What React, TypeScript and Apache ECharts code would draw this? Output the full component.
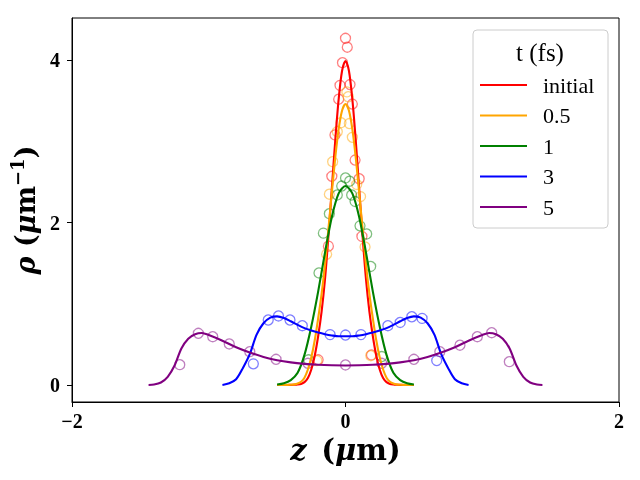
import React, { useEffect, useRef } from "react";
import * as echarts from "echarts";

// ---- data ----
const seriesNames = ["initial", "0.5", "1", "3", "5"];
const seriesColors = ["#ff0000", "#ffa500", "#008000", "#0000ff", "#800080"];

const zFine = [
  -0.5, -0.475, -0.45, -0.425, -0.4, -0.375, -0.35, -0.325, -0.3, -0.275, -0.25, -0.225, -0.2, -0.175,
  -0.15, -0.125, -0.1, -0.075, -0.05, -0.025, 0, 0.025, 0.05, 0.075, 0.1, 0.125, 0.15, 0.175, 0.2,
  0.225, 0.25, 0.275, 0.3, 0.325, 0.35, 0.375, 0.4, 0.425, 0.45, 0.475, 0.5,
];
const rhoInitial = [
  0, 0, 0, 0, 0.001, 0.002, 0.005, 0.013, 0.035, 0.085, 0.19, 0.36, 0.6, 0.9, 1.3, 1.83, 2.42, 3.01,
  3.52, 3.87, 3.99, 3.87, 3.52, 3.01, 2.42, 1.83, 1.3, 0.9, 0.6, 0.36, 0.19, 0.085, 0.035, 0.013,
  0.005, 0.002, 0.001, 0, 0, 0, 0,
];
const rhoHalf = [
  0, 0, 0, 0.001, 0.003, 0.007, 0.017, 0.04, 0.09, 0.19, 0.34, 0.55, 0.82, 1.12, 1.48, 1.92, 2.37,
  2.8, 3.15, 3.38, 3.46, 3.38, 3.15, 2.8, 2.37, 1.92, 1.48, 1.12, 0.82, 0.55, 0.34, 0.19, 0.09, 0.04,
  0.017, 0.007, 0.003, 0.001, 0, 0, 0,
];
const zMid = [
  -0.5, -0.45, -0.4, -0.35, -0.3, -0.25, -0.2, -0.15, -0.1, -0.05, 0, 0.05, 0.1, 0.15, 0.2, 0.25, 0.3,
  0.35, 0.4, 0.45, 0.5,
];
const rhoOne = [
  0.005, 0.02, 0.06, 0.15, 0.37, 0.72, 1.15, 1.63, 2.07, 2.36, 2.45, 2.36, 2.07, 1.63, 1.15, 0.72,
  0.37, 0.15, 0.06, 0.02, 0.005,
];
const zWide = [
  -0.9, -0.85, -0.8, -0.75, -0.7, -0.65, -0.6, -0.55, -0.5, -0.45, -0.4, -0.35, -0.3, -0.25, -0.2,
  -0.15, -0.1, -0.05, 0, 0.05, 0.1, 0.15, 0.2, 0.25, 0.3, 0.35, 0.4, 0.45, 0.5, 0.55, 0.6, 0.65, 0.7,
  0.75, 0.8, 0.85, 0.9,
];
const rhoThree = [
  0, 0.02, 0.07, 0.21, 0.38, 0.62, 0.76, 0.83, 0.845, 0.825, 0.785, 0.74, 0.7, 0.67, 0.645, 0.625,
  0.61, 0.6, 0.6, 0.6, 0.61, 0.625, 0.645, 0.67, 0.7, 0.74, 0.785, 0.825, 0.845, 0.83, 0.76, 0.62,
  0.38, 0.21, 0.07, 0.02, 0,
];
const zOuter = [
  -1.44, -1.4, -1.35, -1.3, -1.25, -1.2, -1.15, -1.1, -1.05, -1.0, -0.9, -0.8, -0.7, -0.6, -0.5, -0.4,
  -0.3, -0.2, -0.1, 0, 0.1, 0.2, 0.3, 0.4, 0.5, 0.6, 0.7, 0.8, 0.9, 1.0, 1.05, 1.1, 1.15, 1.2, 1.25,
  1.3, 1.35, 1.4, 1.44,
];
const rhoFive = [
  0, 0.005, 0.03, 0.1, 0.24, 0.45, 0.57, 0.625, 0.64, 0.615, 0.545, 0.465, 0.4, 0.345, 0.305, 0.278,
  0.26, 0.248, 0.242, 0.24, 0.242, 0.248, 0.26, 0.278, 0.305, 0.345, 0.4, 0.465, 0.545, 0.615, 0.64,
  0.625, 0.57, 0.45, 0.24, 0.1, 0.03, 0.005, 0,
];

// scatter samples [z, rho]
const ptsInitial = [
  [0.0, 4.27], [0.013, 4.16], [-0.022, 3.97], [-0.04, 3.69], [0.033, 3.7], [-0.05, 3.52], [0.05, 3.46],
  [-0.077, 3.08], [0.07, 2.77], [-0.1, 2.57], [0.1, 2.54], [0.12, 1.83], [-0.125, 1.71], [0.19, 0.37],
  [-0.2, 0.31],
];
const ptsHalf = [
  [0.01, 3.61], [0.02, 3.55], [-0.033, 3.23], [0.028, 3.22], [-0.06, 3.12], [0.05, 3.05],
  [-0.094, 2.75], [0.082, 2.47], [-0.118, 2.35], [0.11, 2.32], [-0.138, 1.61], [0.143, 1.7],
  [-0.21, 0.3], [0.185, 0.36],
];
const ptsOne = [
  [0.0, 2.55], [0.03, 2.51], [-0.028, 2.45], [-0.06, 2.34], [0.045, 2.34], [0.07, 2.26],
  [-0.118, 2.11], [0.106, 1.96], [0.155, 1.86], [-0.162, 1.87], [0.184, 1.46], [-0.194, 1.38],
  [0.265, 0.35], [-0.27, 0.31],
];
const ptsThree = [
  [-0.674, 0.26], [-0.565, 0.8], [-0.49, 0.85], [-0.406, 0.8], [-0.316, 0.73], [-0.113, 0.62],
  [0, 0.615], [0.113, 0.62], [0.31, 0.73], [0.4, 0.77], [0.485, 0.84], [0.56, 0.82], [0.667, 0.3],
];
const ptsFive = [
  [-1.212, 0.25], [-1.076, 0.636], [-0.971, 0.594], [-0.85, 0.505], [-0.7, 0.41], [-0.508, 0.316],
  [-0.275, 0.267], [0, 0.246], [0.265, 0.267], [0.5, 0.316], [0.69, 0.41], [0.837, 0.49],
  [0.964, 0.594], [1.069, 0.644], [1.198, 0.287],
];

const xTicks = [-2, 0, 2];
const yTicks = [0, 2, 4];

const lineZ = [zFine, zFine, zMid, zWide, zOuter];
const lineRho = [rhoInitial, rhoHalf, rhoOne, rhoThree, rhoFive];
const pointSets = [ptsInitial, ptsHalf, ptsOne, ptsThree, ptsFive];

const SERIF = "'Liberation Serif', 'DejaVu Serif', serif";
const MATH = "'DejaVu Serif', serif";

export default function App() {
  const ref = useRef<HTMLDivElement>(null);
  useEffect(() => {
    if (!ref.current) return;
    const chart = echarts.init(ref.current, null, { renderer: "svg" });
    const series: any[] = [];
    seriesNames.forEach((name, i) => {
      series.push({
        type: "scatter",
        name: name + " data",
        data: pointSets[i],
        symbol: "circle",
        symbolSize: 10,
        itemStyle: { color: "rgba(0,0,0,0)", borderColor: seriesColors[i], borderWidth: 1.3, opacity: 0.5 },
        z: 2,
      });
    });
    seriesNames.forEach((name, i) => {
      series.push({
        type: "line",
        name,
        data: lineZ[i].map((z, k) => [z, lineRho[i][k]]),
        showSymbol: false,
        symbol: "none",
        smooth: 0.3,
        lineStyle: { color: seriesColors[i], width: 2.1 },
        itemStyle: { color: seriesColors[i] },
        z: 3,
      });
    });
    const minusFmt = (v: number) => (v < 0 ? "\u2212" + Math.abs(v) : String(v));
    chart.setOption({
      animation: false,
      grid: { left: 72, right: 21, top: 18, bottom: 78, show: true, borderColor: "#000", borderWidth: 1 },
      xAxis: {
        type: "value",
        min: -2,
        max: 2,
        interval: 2,
        name: "{i|z}{b|\u2002(}{i|\u03bc}{b|m)}",
        nameLocation: "middle",
        nameGap: 30,
        nameTextStyle: {
          rich: {
            i: { fontFamily: MATH, fontWeight: "bold", fontStyle: "italic", fontSize: 29, color: "#000" },
            b: { fontFamily: MATH, fontWeight: "bold", fontSize: 29, color: "#000" },
          },
        },
        axisLine: { show: true, onZero: false, lineStyle: { color: "#000", width: 1 } },
        axisTick: { show: true, length: 5, lineStyle: { color: "#000", width: 1 } },
        axisLabel: {
          formatter: minusFmt,
          fontFamily: SERIF,
          fontWeight: "bold",
          fontSize: 20,
          color: "#000",
          margin: 9,
          customValues: xTicks,
        },
        splitLine: { show: false },
      },
      yAxis: {
        type: "value",
        min: -0.21,
        max: 4.52,
        name: "{i|\u03c1}{b| (}{i|\u03bc}{b|m}{s|\u22121}{b|)}",
        nameLocation: "middle",
        nameRotate: 90,
        nameGap: 29,
        nameTextStyle: {
          rich: {
            i: { fontFamily: MATH, fontWeight: "bold", fontStyle: "italic", fontSize: 27, color: "#000", lineHeight: 34 },
            b: { fontFamily: MATH, fontWeight: "bold", fontSize: 27, color: "#000", lineHeight: 34 },
            s: { fontFamily: MATH, fontWeight: "bold", fontSize: 18, color: "#000", lineHeight: 21, verticalAlign: "top" },
          },
        },
        axisLine: { show: true, onZero: false, lineStyle: { color: "#000", width: 1 } },
        axisTick: { show: true, length: 5, lineStyle: { color: "#000", width: 1 }, customValues: yTicks },
        axisLabel: {
          formatter: minusFmt,
          fontFamily: SERIF,
          fontWeight: "bold",
          fontSize: 20,
          color: "#000",
          margin: 12,
          customValues: yTicks,
        },
        splitLine: { show: false },
      },
      graphic: [
        {
          type: "rect",
          shape: { x: 473, y: 30, width: 135, height: 198, r: 4 },
          style: { fill: "rgba(255,255,255,0.8)", stroke: "#cccccc", lineWidth: 1 },
          z: 10,
        },
        {
          type: "text",
          x: 540,
          y: 52,
          style: {
            text: "t (fs)",
            fontFamily: SERIF,
            fontSize: 25,
            fill: "#000",
            textAlign: "center",
            textVerticalAlign: "middle",
          },
          z: 11,
        },
      ],
      legend: {
        data: seriesNames.map((n) => ({ name: n, icon: "rect" })),
        orient: "vertical",
        left: 480,
        top: 74,
        padding: 0,
        itemWidth: 47,
        itemHeight: 2,
        itemGap: 8.5,
        z: 20,
        textStyle: { fontFamily: SERIF, fontSize: 22, color: "#000", padding: [0, 0, 0, 11] },
      },
      series,
    });
    return () => chart.dispose();
  }, []);
  return <div ref={ref} style={{ position: "fixed", left: 0, top: 0, width: 640, height: 480 }} />;
}
